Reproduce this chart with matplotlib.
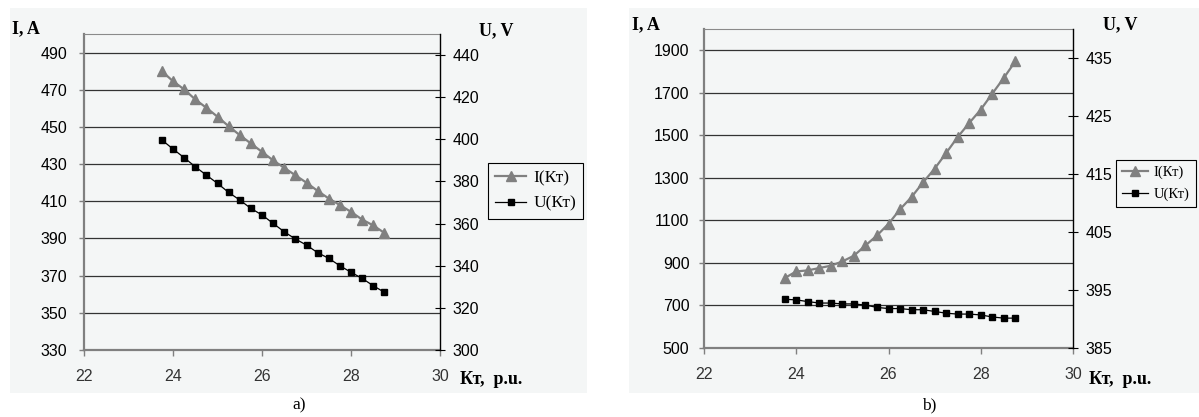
import matplotlib
matplotlib.use('Agg')
import matplotlib.pyplot as plt
from matplotlib.patches import Rectangle
import numpy as np

plt.rcParams['font.family'] = ['Liberation Sans', 'DejaVu Sans']

# Kт values (same for both charts)
kt = [23.75, 24.0, 24.25, 24.5, 24.75, 25.0, 25.25, 25.5, 25.75, 26.0, 26.25,
      26.5, 26.75, 27.0, 27.25, 27.5, 27.75, 28.0, 28.25, 28.5, 28.75]

# chart a)
i_a = [480, 474.6, 470.2, 464.8, 460.3, 455.5, 450.4, 445.6, 441.1, 436.6, 432,
       428, 424, 420, 415.6, 411.5, 408, 404.3, 400.2, 397, 393]
u_a = [399.7, 395.4, 391.3, 387, 383, 379.1, 374.8, 371.2, 367.2, 364.1, 360.1,
       356.1, 352.7, 349.8, 346.2, 343.5, 340, 336.9, 334, 330.5, 327.4]

# chart b)
i_b = [829, 860, 865, 876, 887, 907, 934, 982, 1029, 1084, 1152,
       1210, 1279, 1343, 1417, 1492, 1558, 1621, 1696, 1770, 1848]
u_b = [393.4, 393.3, 393.0, 392.75, 392.75, 392.6, 392.6, 392.4, 392.0, 391.8, 391.8,
       391.6, 391.6, 391.3, 391.0, 390.85, 390.85, 390.7, 390.35, 390.15, 390.15]

labels = ['I(Кт)', 'U(Кт)']
bg = '#f4f6f6'
W, H = 1199, 417

fig = plt.figure(figsize=(W / 100, H / 100), dpi=100)


def fx(px):
    return px / W


def fy(py):
    return 1 - py / H


# panel backgrounds
fig.patches.append(Rectangle((fx(10), fy(393)), fx(577), 385 / H, transform=fig.transFigure,
                             facecolor=bg, edgecolor='none', zorder=-10))
fig.patches.append(Rectangle((fx(629), fy(393)), fx(570), 385 / H, transform=fig.transFigure,
                             facecolor=bg, edgecolor='none', zorder=-10))


def panel(box, y, u, ylim, yticks, ulim, uticks, lpad, xpad, leg_xy, leg_fs, title_xy, cap):
    ax = fig.add_axes(box)
    ax.set_facecolor('none')
    ax2 = ax.twinx()
    ax.plot(kt, y, '-^', color='#808080', lw=1.6, ms=6.5, mec='#808080', label=labels[0])
    ax2.plot(kt, u, '-s', color='black', lw=0.9, ms=4.5, label=labels[1])
    ax.set_xlim(22, 30)
    ax.set_xticks([22, 24, 26, 28, 30])
    ax.set_ylim(*ylim)
    ax.set_yticks(yticks)
    ax2.set_ylim(*ulim)
    ax2.set_yticks(uticks)
    ax.grid(axis='y', color='#333333', lw=0.9)
    ax.set_axisbelow(True)
    for s in ['left', 'bottom']:
        ax.spines[s].set_color('#808080')
        ax.spines[s].set_linewidth(1.6)
    ax.spines['top'].set_color('#8a8a8a')
    ax.spines['top'].set_linewidth(0.8)
    ax.spines['right'].set_visible(False)
    for s in ['left', 'bottom', 'top']:
        ax2.spines[s].set_visible(False)
    ax2.spines['right'].set_color('black')
    ax2.spines['right'].set_linewidth(1.0)
    ax.tick_params(axis='y', direction='out', length=3.5, width=1, color='#808080',
                   pad=lpad, labelsize=11.5)
    ax.tick_params(axis='x', direction='out', length=4, width=1, color='#808080',
                   pad=xpad, labelsize=11.5, labelcolor='#333333')
    ax2.tick_params(axis='y', direction='inout', length=7.5, width=0.8, color='black',
                    pad=5.0, labelsize=11.5)

    leg = fig.legend(ax.get_lines() + ax2.get_lines(), labels, loc='upper left',
                     bbox_to_anchor=leg_xy, borderaxespad=0, fancybox=False,
                     edgecolor='black', facecolor=bg, framealpha=1,
                     prop={'family': 'Liberation Serif', 'size': leg_fs},
                     handlelength=1.8, handletextpad=0.4, labelspacing=0.55,
                     borderpad=0.4)
    leg.get_frame().set_linewidth(0.8)

    bold = dict(family='Liberation Serif', weight='bold', size=13, va='baseline', ha='left')
    fig.text(fx(title_xy[0]), fy(title_xy[1]), 'I, A', **bold)
    fig.text(fx(title_xy[2]), fy(title_xy[3]), 'U, V', **bold)
    fig.text(fx(title_xy[4]), fy(384), 'Кт,  p.u.', **bold)
    fig.text(fx(cap[0]), fy(cap[1]), cap[2], family='Liberation Serif', size=12.5,
             ha='center', va='center')


panel([fx(84), fy(350), fx(356), 316 / H], i_a, u_a,
      (330, 500), np.arange(330, 491, 20), (300, 450), np.arange(300, 441, 20),
      8.5, 10, (fx(488), fy(163)), 12.5, (12, 33, 479, 35, 460), (299, 405, 'a)'))

panel([fx(704), fy(348), fx(369), 319 / H], i_b, u_b,
      (500, 2000), np.arange(500, 1901, 200), (385, 440), np.arange(385, 436, 10),
      7.0, 10, (fx(1116), fy(160)), 10.5, (632, 29, 1103, 29, 1089), (929, 405, 'b)'))

fig.savefig('out.png', dpi=100, facecolor='white')
